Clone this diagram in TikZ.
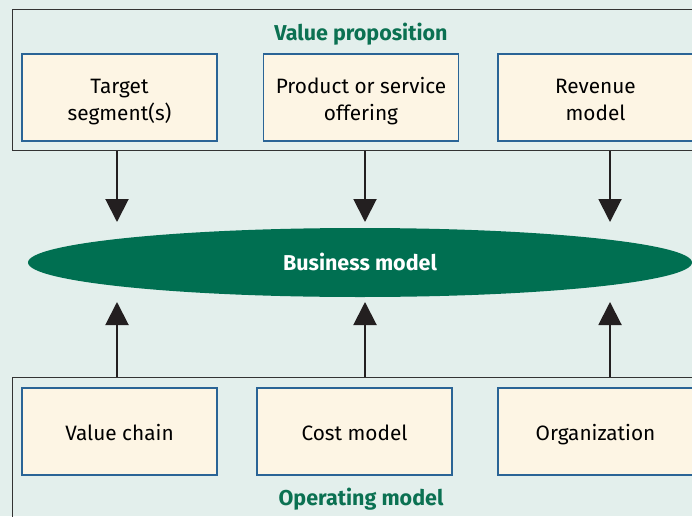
\documentclass[tikz,border=0pt]{standalone}
\usepackage{fontspec}
\setmainfont{Fira Sans}
\usetikzlibrary{arrows.meta,shapes.geometric}
\definecolor{bgc}{HTML}{E3EFEC}
\definecolor{boxfill}{HTML}{FDF5E4}
\definecolor{boxline}{HTML}{2A6496}
\definecolor{green1}{HTML}{006F51}
\definecolor{titlec}{HTML}{0B7152}
\definecolor{darkline}{HTML}{333333}
\definecolor{arrowc}{HTML}{231F20}
\tikzset{
  itembox/.style={draw=boxline, line width=1.1pt, fill=boxfill, minimum width=195pt, minimum height=87pt, inner sep=0pt, align=center, font=\fontsize{20.8}{27.4}\selectfont, text=black},
  oneline/.style={text height=17pt, text depth=0pt},
  twoline/.style={text height=46.4pt, text depth=0pt},
  outerbox/.style={draw=darkline, line width=1.3pt, anchor=north west, inner sep=0pt},
  titletext/.style={font=\fontsize{21.5}{24}\selectfont\bfseries, text=titlec, anchor=base},
  bigarrow/.style={draw=arrowc, fill=arrowc, line width=2pt, -{Triangle[width=23pt,length=23pt]}}
}
\begin{document}
\begin{tikzpicture}[x=1pt,y=-1pt]
\useasboundingbox (0,0) rectangle (692,516);
\fill[bgc] (0,0) rectangle (692,516);
\clip (0,0) rectangle (692,516);
% outer boxes
\node[outerbox, minimum width=700pt, minimum height=141pt] (vp) at (12,9) {};
\node[outerbox, minimum width=700pt, minimum height=150pt] (op) at (12,377) {};
% titles
\node[titletext] (vptitle) at (361,40.7) {Value proposition};
\node[titletext] (optitle) at (361,505) {Operating model};
% top boxes
\node[itembox, twoline] (t1) at (119.5,97.5) {Target\\segment(s)};
\node[itembox, twoline] (t2) at (361,97.5) {Product or service\\offering};
\node[itembox, twoline] (t3) at (595.5,97.5) {Revenue\\model};
% bottom boxes
\node[itembox, oneline] (b1) at (119.5,431.5) {Value chain};
\node[itembox, oneline] (b2) at (354.5,431.5) {Cost model};
\node[itembox, oneline] (b3) at (595.5,431.5) {Organization};
% ellipse
\node[ellipse, fill=green1, minimum width=664pt, minimum height=69pt, inner sep=0pt, text=white, font=\fontsize{21.5}{24}\selectfont\bfseries, text height=15pt, text depth=0pt] (bm) at (360,262.5) {Business model};
% arrow end points
\coordinate (e1) at (117,222);
\coordinate (e2) at (365,222);
\coordinate (e3) at (610,222);
\coordinate (f1) at (117,302);
\coordinate (f2) at (365,302);
\coordinate (f3) at (610,302);
\draw[bigarrow] (vp.south -| e1) -- (e1);
\draw[bigarrow] (vp.south -| e2) -- (e2);
\draw[bigarrow] (vp.south -| e3) -- (e3);
\draw[bigarrow] (op.north -| f1) -- (f1);
\draw[bigarrow] (op.north -| f2) -- (f2);
\draw[bigarrow] (op.north -| f3) -- (f3);
\end{tikzpicture}
\end{document}
